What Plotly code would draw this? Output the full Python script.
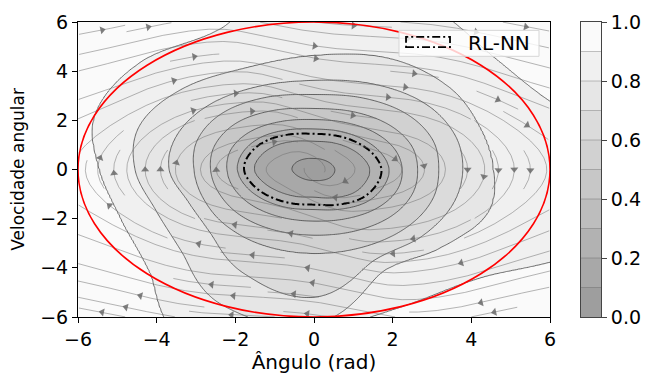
import math
import numpy as np
import plotly.graph_objects as go

# ---------------- data ----------------
# directions (deg) from the centre along which the level curves were read
dir_angles_deg = [0, 22.5, 45, 67.5, 90, 112.5, 135, 157.5,
                  180, 202.5, 225, 247.5, 270, 292.5, 315, 337.5]
level_values = [0.1, 0.2, 0.3, 0.4, 0.5, 0.6, 0.7, 0.8, 0.9]
# distance of each level curve from the centre along those directions
r_lvl_01 = [0.53, 0.50, 0.47, 0.455, 0.45, 0.48, 0.52, 0.55, 0.56, 0.51, 0.47, 0.455, 0.45, 0.48, 0.52, 0.53]
r_lvl_02 = [1.42, 1.33, 1.25, 1.19, 1.15, 1.25, 1.38, 1.47, 1.52, 1.39, 1.27, 1.19, 1.13, 1.25, 1.38, 1.41]
r_lvl_03 = [1.91, 1.83, 1.75, 1.69, 1.65, 1.75, 1.88, 1.94, 1.95, 1.86, 1.77, 1.69, 1.63, 1.75, 1.88, 1.90]
r_lvl_04 = [2.24, 2.21, 2.15, 2.07, 2.03, 2.12, 2.23, 2.26, 2.21, 2.17, 2.14, 2.11, 2.10, 2.16, 2.24, 2.27]
r_lvl_05 = [2.63, 2.66, 2.63, 2.55, 2.48, 2.61, 2.73, 2.71, 2.63, 2.60, 2.64, 2.66, 2.67, 2.71, 2.73, 2.69]
r_lvl_06 = [3.17, 3.25, 3.26, 3.16, 3.05, 3.18, 3.27, 3.20, 3.05, 3.05, 3.19, 3.34, 3.41, 3.39, 3.33, 3.25]
r_lvl_07 = [3.78, 3.85, 3.89, 3.78, 3.62, 3.66, 3.74, 3.75, 3.68, 3.45, 3.70, 4.60, 5.20, 4.00, 3.86, 3.80]
r_lvl_08 = [4.55, 4.55, 4.80, 4.90, 4.63, 4.48, 4.68, 4.78, 4.55, 4.35, 4.75, 6.00, 6.30, 4.52, 4.52, 4.75]
r_lvl_09 = [8.50, 6.70, 6.46, 7.30, 8.00, 6.20, 6.20, 6.00, 5.45, 5.30, 5.90, 7.80, 6.60, 6.00, 6.15, 7.80]
center_value = 0.04
rlnn_level = 0.26
roa_center = [0.0, 0.0]
roa_radius = [6.0, 6.0]
x_ticks = [-6, -4, -2, 0, 2, 4, 6]
y_ticks = [-6, -4, -2, 0, 2, 4, 6]
cbar_ticks = [0.0, 0.2, 0.4, 0.6, 0.8, 1.0]
cbar_ticktext = ["0.0", "0.2", "0.4", "0.6", "0.8", "1.0"]
# closed-loop pendulum used for the stream lines
pend_g = 0.8
pend_u = 1.2
pend_kp = 2.0
pend_kd = 0.8
legend_name = "RL-NN"
x_title = "Ângulo (rad)"
y_title = "Velocidade angular"

# ---------------- field table ----------------
gx = np.linspace(-6, 6, 241)
gy = np.linspace(-6, 6, 241)
GX, GY = np.meshgrid(gx, gy)
R = np.hypot(GX, GY)
PHI = np.mod(np.arctan2(GY, GX), 2 * np.pi)


def periodic_cr(vals, phi):
    vals = np.asarray(vals, float)
    n = len(vals)
    step = 2 * np.pi / n
    s = phi / step
    i = np.floor(s).astype(int) % n
    t = s - np.floor(s)
    p0 = vals[(i - 1) % n]
    p1 = vals[i]
    p2 = vals[(i + 1) % n]
    p3 = vals[(i + 2) % n]
    return 0.5 * (2 * p1 + (-p0 + p2) * t + (2 * p0 - 5 * p1 + 4 * p2 - p3) * t ** 2
                  + (-p0 + 3 * p1 - 3 * p2 + p3) * t ** 3)


radii = [r_lvl_01, r_lvl_02, r_lvl_03, r_lvl_04, r_lvl_05, r_lvl_06, r_lvl_07, r_lvl_08, r_lvl_09]
Rk = [periodic_cr(r, PHI) for r in radii]
knots_r = [np.zeros_like(R)] + Rk + [Rk[-1] * 1.6]
knots_v = [center_value] + level_values + [1.0]
Z = np.full_like(R, 0.999)
for k in range(len(knots_r) - 1):
    r0, r1 = knots_r[k], knots_r[k + 1]
    m = (R >= r0) & (R < r1)
    val = knots_v[k] + (knots_v[k + 1] - knots_v[k]) * (R - r0) / (r1 - r0)
    Z[m] = val[m]
Z = np.minimum(Z, 0.999)

# ---------------- stream lines (matplotlib-like streamplot) ----------------
NM = 30
CELL = 12.0 / NM
MIN_SPEED = 0.3


def vel(x, y):
    u = y
    v = pend_g * math.sin(x) - pend_u * math.tanh(pend_kp * x + pend_kd * y)
    s = math.hypot(u, v)
    if s < MIN_SPEED:
        return None
    return u / s, v / s


def to_cell(x, y):
    return min(int((x + 6) / CELL), NM - 1), min(int((y + 6) / CELL), NM - 1)


def inside(x, y):
    return -6 <= x <= 6 and -6 <= y <= 6


def integrate(x0, y0, sign, mask, cur, visited, ds=0.03, maxlen=48.0):
    xs, ys = [x0], [y0]
    x, y, L = x0, y0, 0.0
    while L < maxlen:
        k1 = vel(x, y)
        if k1 is None:
            break
        xm, ym = x + sign * 0.5 * ds * k1[0], y + sign * 0.5 * ds * k1[1]
        if not inside(xm, ym):
            break
        k2 = vel(xm, ym)
        if k2 is None:
            break
        xn, yn = x + sign * ds * k2[0], y + sign * ds * k2[1]
        if not inside(xn, yn):
            break
        c = to_cell(xn, yn)
        if c != cur:
            if mask[c[1]][c[0]]:
                break
            mask[c[1]][c[0]] = True
            visited.append(c)
            cur = c
        x, y = xn, yn
        xs.append(x)
        ys.append(y)
        L += ds
    return xs, ys, L


def spiral(n):
    xfirst, yfirst, xlast, ylast = 0, 1, n - 1, n - 1
    x, y, d = 0, 0, "right"
    for _ in range(n * n):
        yield x, y
        if d == "right":
            x += 1
            if x >= xlast:
                xlast -= 1
                d = "up"
        elif d == "up":
            y += 1
            if y >= ylast:
                ylast -= 1
                d = "left"
        elif d == "left":
            x -= 1
            if x <= xfirst:
                xfirst += 1
                d = "down"
        else:
            y -= 1
            if y <= yfirst:
                yfirst += 1
                d = "right"


mask = [[False] * NM for _ in range(NM)]
line_x, line_y, arr_x, arr_y, arr_ang = [], [], [], [], []
for (ci, cj) in spiral(NM):
    if mask[cj][ci]:
        continue
    x0 = -6 + (ci + 0.5) * CELL
    y0 = -6 + (cj + 0.5) * CELL
    mask[cj][ci] = True
    visited = [(ci, cj)]
    bx, by, lb = integrate(x0, y0, -1, mask, (ci, cj), visited)
    fx, fy, lf = integrate(x0, y0, +1, mask, (ci, cj), visited)
    if lb + lf < 1.2:
        for (a, b) in visited:
            mask[b][a] = False
        continue
    tx = bx[::-1] + fx[1:]
    ty = by[::-1] + fy[1:]
    line_x += tx + [None]
    line_y += ty + [None]
    seg = np.hypot(np.diff(tx), np.diff(ty))
    s = np.cumsum(seg)
    n = int(np.searchsorted(s, s[-1] / 2.0))
    n = min(n, len(tx) - 2)
    dxp = (tx[n + 1] - tx[n]) * 39.33
    dyp = (ty[n + 1] - ty[n]) * 26.5
    arr_x.append(0.5 * (tx[n] + tx[n + 1]))
    arr_y.append(0.5 * (ty[n] + ty[n + 1]))
    arr_ang.append(math.degrees(math.atan2(dxp, dyp)))

gray_scale = [[0.0, "rgb(158,158,158)"], [1.0, "rgb(250,250,250)"]]
dashdot = "8px,3px,2px,3px"

fig = go.Figure()
fig.add_trace(go.Contour(
    x=gx, y=gy, z=Z, xaxis="x", yaxis="y",
    contours=dict(start=0.1, end=0.9, size=0.1, coloring="fill"),
    colorscale=gray_scale, showscale=False,
    line=dict(color="rgba(60,60,60,0.75)", width=1),
    hoverinfo="skip", showlegend=False))

fig.add_trace(go.Scatter(x=line_x, y=line_y, mode="lines", xaxis="x", yaxis="y",
                         line=dict(color="rgba(110,110,110,0.5)", width=1),
                         hoverinfo="skip", showlegend=False))
fig.add_trace(go.Scatter(x=arr_x, y=arr_y, mode="markers", xaxis="x", yaxis="y",
                         marker=dict(symbol="triangle-up", size=7, angle=arr_ang,
                                     color="rgba(105,105,105,0.85)", line=dict(width=0)),
                         hoverinfo="skip", showlegend=False))

fig.add_trace(go.Contour(
    x=gx, y=gy, z=Z, xaxis="x", yaxis="y",
    contours=dict(start=rlnn_level, end=rlnn_level, size=0.1, coloring="none"),
    line=dict(color="black", width=2, dash=dashdot),
    showscale=False, hoverinfo="skip", showlegend=False))

fig.add_trace(go.Contour(
    x=[0, 1], y=[0, 1], z=[[0, 0], [1, 1]], xaxis="x2", yaxis="y2",
    contours=dict(start=0.1, end=0.9, size=0.1, coloring="fill"),
    colorscale=gray_scale, showscale=False,
    line=dict(color="rgba(90,90,90,0.35)", width=1),
    hoverinfo="skip", showlegend=False))

fig.add_shape(type="circle", xref="x", yref="y",
              x0=roa_center[0] - roa_radius[0], x1=roa_center[0] + roa_radius[0],
              y0=roa_center[1] - roa_radius[1], y1=roa_center[1] + roa_radius[1],
              line=dict(color="red", width=1.6), layer="above")

# legend box (matplotlib style: frame, patch with dash-dot edge, label)
fig.add_shape(type="rect", xref="paper", yref="paper", x0=0.6138, x1=0.8815, y0=0.8836, y1=0.9717,
              fillcolor="rgba(255,255,255,0.8)", line=dict(color="#d6d6d6", width=1), layer="above")
fig.add_shape(type="rect", xref="paper", yref="paper", x0=0.6272, x1=0.7113, y0=0.9151, y1=0.9497,
              fillcolor="rgba(0,0,0,0)", line=dict(color="black", width=1.8, dash=dashdot), layer="above")
fig.add_annotation(x=0.7419, y=0.9277, xref="paper", yref="paper", text=legend_name,
                   showarrow=False, xanchor="left", yanchor="middle",
                   font=dict(family="DejaVu Sans", size=20, color="black"))

font_t = dict(family="DejaVu Sans", size=19, color="black")
font_x = dict(family="DejaVu Sans", size=20, color="black")
font_v = dict(family="DejaVu Sans", size=17, color="black")
axis_common = dict(showline=True, mirror=True, linecolor="black", linewidth=1,
                   ticks="outside", ticklen=5, tickwidth=1, tickcolor="black",
                   showgrid=False, zeroline=False, tickfont=font_t)

fig.update_layout(
    width=663, height=377,
    margin=dict(l=78, r=62, t=11, b=48),
    paper_bgcolor="white", plot_bgcolor="white",
    font=font_t, hovermode=False, showlegend=False,
    xaxis=dict(domain=[0, 0.9025], range=[-6, 6], tickvals=x_ticks,
               title=dict(text=x_title, font=font_x, standoff=2), **axis_common),
    yaxis=dict(domain=[0, 1], range=[-6, 6], tickvals=y_ticks,
               title=dict(text=y_title, font=font_v, standoff=11), **axis_common),
    xaxis2=dict(domain=[0.9618, 1.0], range=[0, 1], showticklabels=False, ticks="",
                showline=True, mirror=True, linecolor="#444", showgrid=False, zeroline=False),
    yaxis2=dict(domain=[0, 1], range=[0, 1], anchor="x2", side="right",
                tickvals=cbar_ticks, ticktext=cbar_ticktext,
                showline=True, mirror=True, linecolor="#444", linewidth=1,
                ticks="outside", ticklen=5, tickcolor="#444",
                showgrid=False, zeroline=False, tickfont=font_t),
)

fig.write_html("out.html")
